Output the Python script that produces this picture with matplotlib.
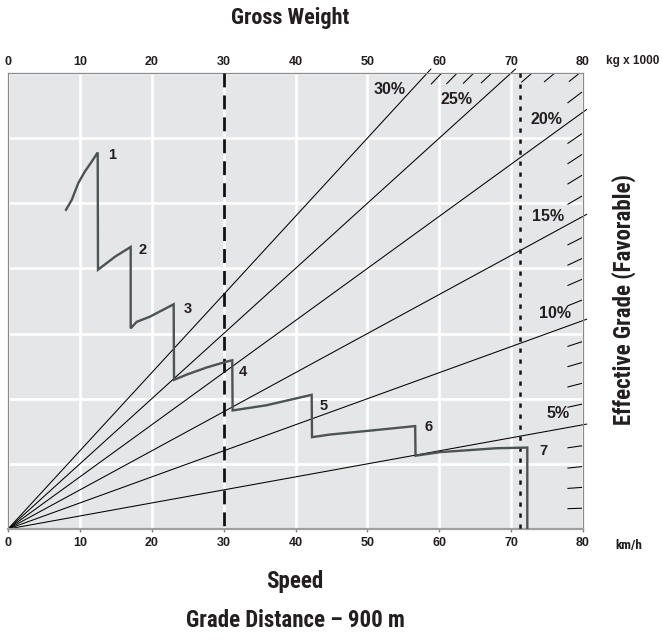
import matplotlib
matplotlib.use('Agg')
import matplotlib.pyplot as plt
import numpy as np

plt.rcParams['font.family'] = ['Liberation Sans', 'DejaVu Sans']
plt.rcParams['font.weight'] = 'bold'
cond = ['DejaVu Sans Condensed', 'Liberation Sans Narrow', 'Roboto Condensed', 'DejaVu Sans']

# speed / gross weight axis (km/h and kg x 1000 share the 0-80 scale)
x_ticks = [0, 10, 20, 30, 40, 50, 60, 70, 80]
y_grid = [0, 1, 2, 3, 4, 5, 6, 7]

# effective grade lines (%), slope factor per % on this chart
grades = [5, 10, 15, 20, 25, 30]
grade_label_x = [76.56, 76.10, 75.17, 74.95, 62.43, 53.05]
grade_label_y = [1.78, 3.31, 4.79, 6.29, 6.59, 6.75]
minor_grades = [g for g in range(1, 30) if g % 5 != 0]
k_grade = 0.004

# retarder curve, gears 1-7 joined by the shift drops
curve_x = [8.07, 8.86, 9.78, 10.71, 11.65, 12.48,
           12.52, 14.89, 17.07,
           17.07, 17.90, 19.76, 23.05,
           23.10, 24.86, 27.65, 30.43, 31.20,
           31.25, 35.99, 42.25,
           42.30, 44.80, 50.37, 56.65,
           56.70, 60.10, 68.00, 72.25,
           72.25]
curve_y = [4.90, 5.05, 5.31, 5.49, 5.64, 5.78,
           3.98, 4.18, 4.33,
           3.08, 3.18, 3.26, 3.45,
           2.29, 2.37, 2.48, 2.57, 2.59,
           1.82, 1.90, 2.06,
           1.41, 1.45, 1.51, 1.58,
           1.125, 1.18, 1.24, 1.25,
           0.0]
gear_labels = ['1', '2', '3', '4', '5', '6', '7']
gear_label_x = [14.43, 18.74, 24.95, 32.65, 43.87, 58.48, 74.48]
gear_label_y = [5.74, 4.28, 3.37, 2.41, 1.89, 1.57, 1.19]

gross_weight_mark = 30
speed_mark = 71.25

txt = '#231f20'
fig = plt.figure(figsize=(6.62, 6.41), dpi=100)
ax = fig.add_axes([8/662, 1-529/641, 575/662, 456/641])
ax.set_facecolor('#e5e6e7')
ax.set_xlim(0, 80)
ax.set_ylim(0, 7)
ax.set_xticks(x_ticks)
ax.set_yticks(y_grid)
ax.grid(color='white', linewidth=1.9, zorder=0)
ax.set_axisbelow(True)
ax.tick_params(axis='y', left=False, labelleft=False)
ax.tick_params(axis='x', length=2.5, width=1, color='#808080', labelsize=9,
               labelcolor=txt, pad=3.0)
for side in ['left', 'top', 'right']:
    ax.spines[side].set_color('#8a8a8a')
    ax.spines[side].set_linewidth(0.9)
ax.spines['bottom'].set_color('#a0a0a0')
ax.spines['bottom'].set_linewidth(1.6)

# gross weight scale along the top
top = ax.secondary_xaxis('top')
top.set_xticks(x_ticks)
top.tick_params(axis='x', length=0, labelsize=9, labelcolor=txt, pad=3.6)
top.spines['top'].set_visible(False)

# grade lines from the origin
for g, lx, ly in zip(grades, grade_label_x, grade_label_y):
    s = g * k_grade
    xe = min(80.5, 7.06 / s)
    ax.plot([0, xe], [0, s * xe], color='black', linewidth=0.75, clip_on=False, zorder=2)
    ax.text(lx, ly, f'{g}%', ha='center', va='center', fontsize=11.5,
            color=txt, zorder=4)

# short marks for the intermediate grades
for g in minor_grades:
    s = g * k_grade
    if 80 * s <= 7:
        xs = np.array([77.9, 79.8])
    else:
        xt = 7 / s
        xs = np.array([xt - 1.45, xt - 0.1])
    ax.plot(xs, s * xs, color='black', linewidth=0.75, zorder=2)

# reference lines
ax.plot([gross_weight_mark, gross_weight_mark], [7, 0], color='#111111',
        linewidth=2.0, dashes=(5.0, 2.9), zorder=3)
ax.plot([speed_mark, speed_mark], [7, 0], color='#111111',
        linewidth=1.8, dashes=(1.7, 2.7), zorder=3)

# performance curve
ax.plot(curve_x, curve_y, color='#4b5353', linewidth=1.7, zorder=5,
        solid_joinstyle='miter')
for lab, lx, ly in zip(gear_labels, gear_label_x, gear_label_y):
    ax.text(lx, ly, lab, ha='center', va='center', fontsize=10.5,
            color=txt, zorder=6)

# titles and units
fig.text(290/662, 1-18/641, 'Gross Weight', ha='center', va='center',
         fontsize=16, family=cond, fontstretch='condensed', color=txt)
fig.text(606/662, 1-61/641, 'kg x 1000', ha='left', va='center',
         fontsize=8.5, color=txt)
fig.text(615/662, 1-546/641, 'km/h', ha='left', va='center',
         fontsize=9.5, family=cond, fontstretch='condensed', color=txt)
fig.text(295/662, 1-588/641, 'Speed', ha='center', va='baseline',
         fontsize=16.5, family=cond, fontstretch='condensed', color=txt)
fig.text(295.5/662, 1-627/641, 'Grade Distance \u2013 900 m', ha='center', va='baseline',
         fontsize=16.5, family=cond, fontstretch='condensed', color=txt)
fig.text(624/662, 1-300/641, 'Effective Grade (Favorable)', ha='center', va='center',
         rotation=90, fontsize=16.5, family=cond, fontstretch='condensed', color=txt)

plt.savefig('out.png', dpi=100)
